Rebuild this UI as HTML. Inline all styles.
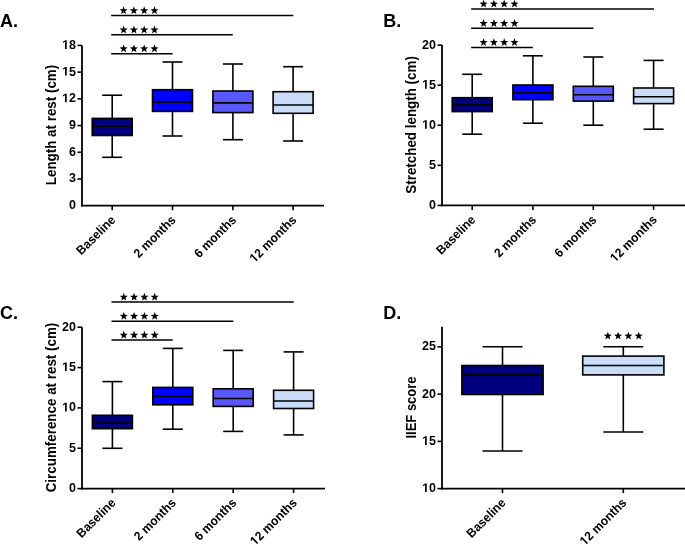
<!DOCTYPE html>
<html><head><meta charset="utf-8"><style>
html,body{margin:0;padding:0;background:#fff;width:685px;height:545px;overflow:hidden}
svg{display:block;will-change:transform}
text{font-family:"Liberation Sans",sans-serif;font-weight:bold}
</style></head><body>
<svg width="685" height="545" viewBox="0 0 685 545" font-family="Liberation Sans, sans-serif" font-weight="bold" fill="#000">
<g transform="translate(0 0.4)">
<g transform="translate(0.00 26.30)"><text x="0" y="0" font-size="18.000" text-anchor="start">A.</text></g>
<line x1="82.00" y1="45.00" x2="82.00" y2="206.20" stroke="#000" stroke-width="1.8"/>
<line x1="77.50" y1="45.00" x2="82.00" y2="45.00" stroke="#000" stroke-width="1.6"/>
<g transform="translate(76.00 48.50)"><text x="0" y="0" font-size="12.500" text-anchor="end">&#8199;8</text><path d="M478,0L478,1170L140,959L140,1180L493,1409L759,1409L759,0Z" transform="translate(-13.904 0) scale(0.006104 -0.006104)"/></g>
<line x1="77.50" y1="71.72" x2="82.00" y2="71.72" stroke="#000" stroke-width="1.6"/>
<g transform="translate(76.00 75.22)"><text x="0" y="0" font-size="12.500" text-anchor="end">&#8199;5</text><path d="M478,0L478,1170L140,959L140,1180L493,1409L759,1409L759,0Z" transform="translate(-13.904 0) scale(0.006104 -0.006104)"/></g>
<line x1="77.50" y1="98.43" x2="82.00" y2="98.43" stroke="#000" stroke-width="1.6"/>
<g transform="translate(76.00 101.93)"><text x="0" y="0" font-size="12.500" text-anchor="end">&#8199;2</text><path d="M478,0L478,1170L140,959L140,1180L493,1409L759,1409L759,0Z" transform="translate(-13.904 0) scale(0.006104 -0.006104)"/></g>
<line x1="77.50" y1="125.15" x2="82.00" y2="125.15" stroke="#000" stroke-width="1.6"/>
<g transform="translate(76.00 128.65)"><text x="0" y="0" font-size="12.500" text-anchor="end">9</text></g>
<line x1="77.50" y1="151.87" x2="82.00" y2="151.87" stroke="#000" stroke-width="1.6"/>
<g transform="translate(76.00 155.37)"><text x="0" y="0" font-size="12.500" text-anchor="end">6</text></g>
<line x1="77.50" y1="178.58" x2="82.00" y2="178.58" stroke="#000" stroke-width="1.6"/>
<g transform="translate(76.00 182.08)"><text x="0" y="0" font-size="12.500" text-anchor="end">3</text></g>
<g transform="translate(76.00 208.80)"><text x="0" y="0" font-size="12.500" text-anchor="end">0</text></g>
<line x1="81.10" y1="205.30" x2="324.00" y2="205.30" stroke="#000" stroke-width="1.8"/>
<line x1="112.20" y1="205.30" x2="112.20" y2="209.80" stroke="#000" stroke-width="1.6"/>
<g transform="translate(116.20 220.30) rotate(-45) scale(0.9524 1)"><text x="0" y="0" font-size="12.600" text-anchor="end">Baseline</text></g>
<line x1="172.50" y1="205.30" x2="172.50" y2="209.80" stroke="#000" stroke-width="1.6"/>
<g transform="translate(176.50 220.30) rotate(-45) scale(0.9524 1)"><text x="0" y="0" font-size="12.600" text-anchor="end">2 months</text></g>
<line x1="232.90" y1="205.30" x2="232.90" y2="209.80" stroke="#000" stroke-width="1.6"/>
<g transform="translate(236.90 220.30) rotate(-45) scale(0.9524 1)"><text x="0" y="0" font-size="12.600" text-anchor="end">6 months</text></g>
<line x1="293.10" y1="205.30" x2="293.10" y2="209.80" stroke="#000" stroke-width="1.6"/>
<g transform="translate(297.10 220.30) rotate(-45) scale(0.9524 1)"><text x="0" y="0" font-size="12.600" text-anchor="end">&#8199;2 months</text><path d="M478,0L478,1170L140,959L140,1180L493,1409L759,1409L759,0Z" transform="translate(-63.016 0) scale(0.006152 -0.006152)"/></g>
<g transform="translate(56.00 124.60) rotate(-90) scale(0.9346 1)"><text x="0" y="0" font-size="14.338" text-anchor="middle">Length at rest (cm)</text></g>
<line x1="112.20" y1="94.80" x2="112.20" y2="118.00" stroke="#000" stroke-width="1.6"/>
<line x1="112.20" y1="135.10" x2="112.20" y2="156.90" stroke="#000" stroke-width="1.6"/>
<line x1="102.20" y1="94.80" x2="122.20" y2="94.80" stroke="#000" stroke-width="1.6"/>
<line x1="102.20" y1="156.90" x2="122.20" y2="156.90" stroke="#000" stroke-width="1.6"/>
<rect x="92.20" y="118.00" width="40.00" height="17.10" fill="#00007f" stroke="#000" stroke-width="1.6"/>
<line x1="92.20" y1="125.90" x2="132.20" y2="125.90" stroke="#000" stroke-width="1.6"/>
<line x1="172.50" y1="61.60" x2="172.50" y2="89.30" stroke="#000" stroke-width="1.6"/>
<line x1="172.50" y1="111.00" x2="172.50" y2="135.60" stroke="#000" stroke-width="1.6"/>
<line x1="162.50" y1="61.60" x2="182.50" y2="61.60" stroke="#000" stroke-width="1.6"/>
<line x1="162.50" y1="135.60" x2="182.50" y2="135.60" stroke="#000" stroke-width="1.6"/>
<rect x="152.50" y="89.30" width="40.00" height="21.70" fill="#0000ff" stroke="#000" stroke-width="1.6"/>
<line x1="152.50" y1="101.70" x2="192.50" y2="101.70" stroke="#000" stroke-width="1.6"/>
<line x1="232.90" y1="63.60" x2="232.90" y2="90.60" stroke="#000" stroke-width="1.6"/>
<line x1="232.90" y1="112.20" x2="232.90" y2="139.30" stroke="#000" stroke-width="1.6"/>
<line x1="222.90" y1="63.60" x2="242.90" y2="63.60" stroke="#000" stroke-width="1.6"/>
<line x1="222.90" y1="139.30" x2="242.90" y2="139.30" stroke="#000" stroke-width="1.6"/>
<rect x="212.90" y="90.60" width="40.00" height="21.60" fill="#5857fa" stroke="#000" stroke-width="1.6"/>
<line x1="212.90" y1="102.50" x2="252.90" y2="102.50" stroke="#000" stroke-width="1.6"/>
<line x1="293.10" y1="66.30" x2="293.10" y2="91.30" stroke="#000" stroke-width="1.6"/>
<line x1="293.10" y1="112.90" x2="293.10" y2="140.60" stroke="#000" stroke-width="1.6"/>
<line x1="283.10" y1="66.30" x2="303.10" y2="66.30" stroke="#000" stroke-width="1.6"/>
<line x1="283.10" y1="140.60" x2="303.10" y2="140.60" stroke="#000" stroke-width="1.6"/>
<rect x="273.10" y="91.30" width="40.00" height="21.60" fill="#c9ddf9" stroke="#000" stroke-width="1.6"/>
<line x1="273.10" y1="104.60" x2="313.10" y2="104.60" stroke="#000" stroke-width="1.6"/>
<line x1="111.20" y1="15.10" x2="293.30" y2="15.10" stroke="#000" stroke-width="1.45"/>
<polygon points="123.60,5.90 124.66,8.74 127.69,8.87 125.32,10.76 126.13,13.68 123.60,12.01 121.07,13.68 121.88,10.76 119.51,8.87 122.54,8.74" fill="#000"/>
<polygon points="133.90,5.90 134.96,8.74 137.99,8.87 135.62,10.76 136.43,13.68 133.90,12.01 131.37,13.68 132.18,10.76 129.81,8.87 132.84,8.74" fill="#000"/>
<polygon points="144.20,5.90 145.26,8.74 148.29,8.87 145.92,10.76 146.73,13.68 144.20,12.01 141.67,13.68 142.48,10.76 140.11,8.87 143.14,8.74" fill="#000"/>
<polygon points="154.50,5.90 155.56,8.74 158.59,8.87 156.22,10.76 157.03,13.68 154.50,12.01 151.97,13.68 152.78,10.76 150.41,8.87 153.44,8.74" fill="#000"/>
<line x1="111.20" y1="34.40" x2="232.80" y2="34.40" stroke="#000" stroke-width="1.45"/>
<polygon points="123.60,25.20 124.66,28.04 127.69,28.17 125.32,30.06 126.13,32.98 123.60,31.31 121.07,32.98 121.88,30.06 119.51,28.17 122.54,28.04" fill="#000"/>
<polygon points="133.90,25.20 134.96,28.04 137.99,28.17 135.62,30.06 136.43,32.98 133.90,31.31 131.37,32.98 132.18,30.06 129.81,28.17 132.84,28.04" fill="#000"/>
<polygon points="144.20,25.20 145.26,28.04 148.29,28.17 145.92,30.06 146.73,32.98 144.20,31.31 141.67,32.98 142.48,30.06 140.11,28.17 143.14,28.04" fill="#000"/>
<polygon points="154.50,25.20 155.56,28.04 158.59,28.17 156.22,30.06 157.03,32.98 154.50,31.31 151.97,32.98 152.78,30.06 150.41,28.17 153.44,28.04" fill="#000"/>
<line x1="111.20" y1="53.30" x2="172.60" y2="53.30" stroke="#000" stroke-width="1.45"/>
<polygon points="123.60,44.10 124.66,46.94 127.69,47.07 125.32,48.96 126.13,51.88 123.60,50.21 121.07,51.88 121.88,48.96 119.51,47.07 122.54,46.94" fill="#000"/>
<polygon points="133.90,44.10 134.96,46.94 137.99,47.07 135.62,48.96 136.43,51.88 133.90,50.21 131.37,51.88 132.18,48.96 129.81,47.07 132.84,46.94" fill="#000"/>
<polygon points="144.20,44.10 145.26,46.94 148.29,47.07 145.92,48.96 146.73,51.88 144.20,50.21 141.67,51.88 142.48,48.96 140.11,47.07 143.14,46.94" fill="#000"/>
<polygon points="154.50,44.10 155.56,46.94 158.59,47.07 156.22,48.96 157.03,51.88 154.50,50.21 151.97,51.88 152.78,48.96 150.41,47.07 153.44,46.94" fill="#000"/>
<g transform="translate(383.30 26.30)"><text x="0" y="0" font-size="18.000" text-anchor="start">B.</text></g>
<line x1="442.00" y1="44.70" x2="442.00" y2="205.90" stroke="#000" stroke-width="1.8"/>
<line x1="437.50" y1="44.70" x2="442.00" y2="44.70" stroke="#000" stroke-width="1.6"/>
<g transform="translate(436.00 48.20)"><text x="0" y="0" font-size="12.500" text-anchor="end">20</text></g>
<line x1="437.50" y1="84.78" x2="442.00" y2="84.78" stroke="#000" stroke-width="1.6"/>
<g transform="translate(436.00 88.28)"><text x="0" y="0" font-size="12.500" text-anchor="end">&#8199;5</text><path d="M478,0L478,1170L140,959L140,1180L493,1409L759,1409L759,0Z" transform="translate(-13.904 0) scale(0.006104 -0.006104)"/></g>
<line x1="437.50" y1="124.85" x2="442.00" y2="124.85" stroke="#000" stroke-width="1.6"/>
<g transform="translate(436.00 128.35)"><text x="0" y="0" font-size="12.500" text-anchor="end">&#8199;0</text><path d="M478,0L478,1170L140,959L140,1180L493,1409L759,1409L759,0Z" transform="translate(-13.904 0) scale(0.006104 -0.006104)"/></g>
<line x1="437.50" y1="164.93" x2="442.00" y2="164.93" stroke="#000" stroke-width="1.6"/>
<g transform="translate(436.00 168.43)"><text x="0" y="0" font-size="12.500" text-anchor="end">5</text></g>
<line x1="437.50" y1="205.00" x2="442.00" y2="205.00" stroke="#000" stroke-width="1.6"/>
<g transform="translate(436.00 208.50)"><text x="0" y="0" font-size="12.500" text-anchor="end">0</text></g>
<line x1="441.10" y1="205.00" x2="685.00" y2="205.00" stroke="#000" stroke-width="1.8"/>
<line x1="472.20" y1="205.00" x2="472.20" y2="209.50" stroke="#000" stroke-width="1.6"/>
<g transform="translate(476.20 220.00) rotate(-45) scale(0.9524 1)"><text x="0" y="0" font-size="12.600" text-anchor="end">Baseline</text></g>
<line x1="532.90" y1="205.00" x2="532.90" y2="209.50" stroke="#000" stroke-width="1.6"/>
<g transform="translate(536.90 220.00) rotate(-45) scale(0.9524 1)"><text x="0" y="0" font-size="12.600" text-anchor="end">2 months</text></g>
<line x1="593.30" y1="205.00" x2="593.30" y2="209.50" stroke="#000" stroke-width="1.6"/>
<g transform="translate(597.30 220.00) rotate(-45) scale(0.9524 1)"><text x="0" y="0" font-size="12.600" text-anchor="end">6 months</text></g>
<line x1="653.60" y1="205.00" x2="653.60" y2="209.50" stroke="#000" stroke-width="1.6"/>
<g transform="translate(657.60 220.00) rotate(-45) scale(0.9524 1)"><text x="0" y="0" font-size="12.600" text-anchor="end">&#8199;2 months</text><path d="M478,0L478,1170L140,959L140,1180L493,1409L759,1409L759,0Z" transform="translate(-63.016 0) scale(0.006152 -0.006152)"/></g>
<g transform="translate(415.80 124.50) rotate(-90) scale(0.9346 1)"><text x="0" y="0" font-size="14.338" text-anchor="middle">Stretched length (cm)</text></g>
<line x1="472.20" y1="73.90" x2="472.20" y2="97.30" stroke="#000" stroke-width="1.6"/>
<line x1="472.20" y1="111.20" x2="472.20" y2="133.80" stroke="#000" stroke-width="1.6"/>
<line x1="462.20" y1="73.90" x2="482.20" y2="73.90" stroke="#000" stroke-width="1.6"/>
<line x1="462.20" y1="133.80" x2="482.20" y2="133.80" stroke="#000" stroke-width="1.6"/>
<rect x="452.20" y="97.30" width="40.00" height="13.90" fill="#00007f" stroke="#000" stroke-width="1.6"/>
<line x1="452.20" y1="104.20" x2="492.20" y2="104.20" stroke="#000" stroke-width="1.6"/>
<line x1="532.90" y1="55.40" x2="532.90" y2="84.60" stroke="#000" stroke-width="1.6"/>
<line x1="532.90" y1="99.30" x2="532.90" y2="122.80" stroke="#000" stroke-width="1.6"/>
<line x1="522.90" y1="55.40" x2="542.90" y2="55.40" stroke="#000" stroke-width="1.6"/>
<line x1="522.90" y1="122.80" x2="542.90" y2="122.80" stroke="#000" stroke-width="1.6"/>
<rect x="512.90" y="84.60" width="40.00" height="14.70" fill="#0000ff" stroke="#000" stroke-width="1.6"/>
<line x1="512.90" y1="92.30" x2="552.90" y2="92.30" stroke="#000" stroke-width="1.6"/>
<line x1="593.30" y1="56.60" x2="593.30" y2="85.90" stroke="#000" stroke-width="1.6"/>
<line x1="593.30" y1="100.70" x2="593.30" y2="124.80" stroke="#000" stroke-width="1.6"/>
<line x1="583.30" y1="56.60" x2="603.30" y2="56.60" stroke="#000" stroke-width="1.6"/>
<line x1="583.30" y1="124.80" x2="603.30" y2="124.80" stroke="#000" stroke-width="1.6"/>
<rect x="573.30" y="85.90" width="40.00" height="14.80" fill="#5857fa" stroke="#000" stroke-width="1.6"/>
<line x1="573.30" y1="94.30" x2="613.30" y2="94.30" stroke="#000" stroke-width="1.6"/>
<line x1="653.60" y1="60.00" x2="653.60" y2="87.60" stroke="#000" stroke-width="1.6"/>
<line x1="653.60" y1="103.20" x2="653.60" y2="128.80" stroke="#000" stroke-width="1.6"/>
<line x1="643.60" y1="60.00" x2="663.60" y2="60.00" stroke="#000" stroke-width="1.6"/>
<line x1="643.60" y1="128.80" x2="663.60" y2="128.80" stroke="#000" stroke-width="1.6"/>
<rect x="633.60" y="87.60" width="40.00" height="15.60" fill="#c9ddf9" stroke="#000" stroke-width="1.6"/>
<line x1="633.60" y1="96.30" x2="673.60" y2="96.30" stroke="#000" stroke-width="1.6"/>
<line x1="471.20" y1="8.50" x2="654.00" y2="8.50" stroke="#000" stroke-width="1.45"/>
<polygon points="483.60,-0.70 484.66,2.14 487.69,2.27 485.32,4.16 486.13,7.08 483.60,5.41 481.07,7.08 481.88,4.16 479.51,2.27 482.54,2.14" fill="#000"/>
<polygon points="493.90,-0.70 494.96,2.14 497.99,2.27 495.62,4.16 496.43,7.08 493.90,5.41 491.37,7.08 492.18,4.16 489.81,2.27 492.84,2.14" fill="#000"/>
<polygon points="504.20,-0.70 505.26,2.14 508.29,2.27 505.92,4.16 506.73,7.08 504.20,5.41 501.67,7.08 502.48,4.16 500.11,2.27 503.14,2.14" fill="#000"/>
<polygon points="514.50,-0.70 515.56,2.14 518.59,2.27 516.22,4.16 517.03,7.08 514.50,5.41 511.97,7.08 512.78,4.16 510.41,2.27 513.44,2.14" fill="#000"/>
<line x1="471.20" y1="27.90" x2="593.40" y2="27.90" stroke="#000" stroke-width="1.45"/>
<polygon points="483.60,18.70 484.66,21.54 487.69,21.67 485.32,23.56 486.13,26.48 483.60,24.81 481.07,26.48 481.88,23.56 479.51,21.67 482.54,21.54" fill="#000"/>
<polygon points="493.90,18.70 494.96,21.54 497.99,21.67 495.62,23.56 496.43,26.48 493.90,24.81 491.37,26.48 492.18,23.56 489.81,21.67 492.84,21.54" fill="#000"/>
<polygon points="504.20,18.70 505.26,21.54 508.29,21.67 505.92,23.56 506.73,26.48 504.20,24.81 501.67,26.48 502.48,23.56 500.11,21.67 503.14,21.54" fill="#000"/>
<polygon points="514.50,18.70 515.56,21.54 518.59,21.67 516.22,23.56 517.03,26.48 514.50,24.81 511.97,26.48 512.78,23.56 510.41,21.67 513.44,21.54" fill="#000"/>
<line x1="471.20" y1="47.00" x2="532.90" y2="47.00" stroke="#000" stroke-width="1.45"/>
<polygon points="483.60,37.80 484.66,40.64 487.69,40.77 485.32,42.66 486.13,45.58 483.60,43.91 481.07,45.58 481.88,42.66 479.51,40.77 482.54,40.64" fill="#000"/>
<polygon points="493.90,37.80 494.96,40.64 497.99,40.77 495.62,42.66 496.43,45.58 493.90,43.91 491.37,45.58 492.18,42.66 489.81,40.77 492.84,40.64" fill="#000"/>
<polygon points="504.20,37.80 505.26,40.64 508.29,40.77 505.92,42.66 506.73,45.58 504.20,43.91 501.67,45.58 502.48,42.66 500.11,40.77 503.14,40.64" fill="#000"/>
<polygon points="514.50,37.80 515.56,40.64 518.59,40.77 516.22,42.66 517.03,45.58 514.50,43.91 511.97,45.58 512.78,42.66 510.41,40.77 513.44,40.64" fill="#000"/>
<g transform="translate(0.00 318.40)"><text x="0" y="0" font-size="18.000" text-anchor="start">C.</text></g>
<line x1="82.00" y1="326.80" x2="82.00" y2="489.10" stroke="#000" stroke-width="1.8"/>
<line x1="77.50" y1="326.80" x2="82.00" y2="326.80" stroke="#000" stroke-width="1.6"/>
<g transform="translate(76.00 330.30)"><text x="0" y="0" font-size="12.500" text-anchor="end">20</text></g>
<line x1="77.50" y1="367.15" x2="82.00" y2="367.15" stroke="#000" stroke-width="1.6"/>
<g transform="translate(76.00 370.65)"><text x="0" y="0" font-size="12.500" text-anchor="end">&#8199;5</text><path d="M478,0L478,1170L140,959L140,1180L493,1409L759,1409L759,0Z" transform="translate(-13.904 0) scale(0.006104 -0.006104)"/></g>
<line x1="77.50" y1="407.50" x2="82.00" y2="407.50" stroke="#000" stroke-width="1.6"/>
<g transform="translate(76.00 411.00)"><text x="0" y="0" font-size="12.500" text-anchor="end">&#8199;0</text><path d="M478,0L478,1170L140,959L140,1180L493,1409L759,1409L759,0Z" transform="translate(-13.904 0) scale(0.006104 -0.006104)"/></g>
<line x1="77.50" y1="447.85" x2="82.00" y2="447.85" stroke="#000" stroke-width="1.6"/>
<g transform="translate(76.00 451.35)"><text x="0" y="0" font-size="12.500" text-anchor="end">5</text></g>
<line x1="77.50" y1="488.20" x2="82.00" y2="488.20" stroke="#000" stroke-width="1.6"/>
<g transform="translate(76.00 491.70)"><text x="0" y="0" font-size="12.500" text-anchor="end">0</text></g>
<line x1="81.10" y1="488.20" x2="325.00" y2="488.20" stroke="#000" stroke-width="1.8"/>
<line x1="112.40" y1="488.20" x2="112.40" y2="492.70" stroke="#000" stroke-width="1.6"/>
<g transform="translate(116.40 503.20) rotate(-45) scale(0.9524 1)"><text x="0" y="0" font-size="12.600" text-anchor="end">Baseline</text></g>
<line x1="172.80" y1="488.20" x2="172.80" y2="492.70" stroke="#000" stroke-width="1.6"/>
<g transform="translate(176.80 503.20) rotate(-45) scale(0.9524 1)"><text x="0" y="0" font-size="12.600" text-anchor="end">2 months</text></g>
<line x1="233.20" y1="488.20" x2="233.20" y2="492.70" stroke="#000" stroke-width="1.6"/>
<g transform="translate(237.20 503.20) rotate(-45) scale(0.9524 1)"><text x="0" y="0" font-size="12.600" text-anchor="end">6 months</text></g>
<line x1="293.60" y1="488.20" x2="293.60" y2="492.70" stroke="#000" stroke-width="1.6"/>
<g transform="translate(297.60 503.20) rotate(-45) scale(0.9524 1)"><text x="0" y="0" font-size="12.600" text-anchor="end">&#8199;2 months</text><path d="M478,0L478,1170L140,959L140,1180L493,1409L759,1409L759,0Z" transform="translate(-63.016 0) scale(0.006152 -0.006152)"/></g>
<g transform="translate(56.00 407.10) rotate(-90) scale(0.9346 1)"><text x="0" y="0" font-size="14.338" text-anchor="middle">Circumference at rest (cm)</text></g>
<line x1="112.40" y1="381.20" x2="112.40" y2="414.90" stroke="#000" stroke-width="1.6"/>
<line x1="112.40" y1="428.30" x2="112.40" y2="447.90" stroke="#000" stroke-width="1.6"/>
<line x1="102.40" y1="381.20" x2="122.40" y2="381.20" stroke="#000" stroke-width="1.6"/>
<line x1="102.40" y1="447.90" x2="122.40" y2="447.90" stroke="#000" stroke-width="1.6"/>
<rect x="92.40" y="414.90" width="40.00" height="13.40" fill="#00007f" stroke="#000" stroke-width="1.6"/>
<line x1="92.40" y1="421.60" x2="132.40" y2="421.60" stroke="#000" stroke-width="1.6"/>
<line x1="172.80" y1="348.00" x2="172.80" y2="387.00" stroke="#000" stroke-width="1.6"/>
<line x1="172.80" y1="404.40" x2="172.80" y2="428.80" stroke="#000" stroke-width="1.6"/>
<line x1="162.80" y1="348.00" x2="182.80" y2="348.00" stroke="#000" stroke-width="1.6"/>
<line x1="162.80" y1="428.80" x2="182.80" y2="428.80" stroke="#000" stroke-width="1.6"/>
<rect x="152.80" y="387.00" width="40.00" height="17.40" fill="#0000ff" stroke="#000" stroke-width="1.6"/>
<line x1="152.80" y1="396.10" x2="192.80" y2="396.10" stroke="#000" stroke-width="1.6"/>
<line x1="233.20" y1="350.00" x2="233.20" y2="388.40" stroke="#000" stroke-width="1.6"/>
<line x1="233.20" y1="406.00" x2="233.20" y2="431.00" stroke="#000" stroke-width="1.6"/>
<line x1="223.20" y1="350.00" x2="243.20" y2="350.00" stroke="#000" stroke-width="1.6"/>
<line x1="223.20" y1="431.00" x2="243.20" y2="431.00" stroke="#000" stroke-width="1.6"/>
<rect x="213.20" y="388.40" width="40.00" height="17.60" fill="#5857fa" stroke="#000" stroke-width="1.6"/>
<line x1="213.20" y1="398.10" x2="253.20" y2="398.10" stroke="#000" stroke-width="1.6"/>
<line x1="293.60" y1="351.50" x2="293.60" y2="389.90" stroke="#000" stroke-width="1.6"/>
<line x1="293.60" y1="408.10" x2="293.60" y2="434.50" stroke="#000" stroke-width="1.6"/>
<line x1="283.60" y1="351.50" x2="303.60" y2="351.50" stroke="#000" stroke-width="1.6"/>
<line x1="283.60" y1="434.50" x2="303.60" y2="434.50" stroke="#000" stroke-width="1.6"/>
<rect x="273.60" y="389.90" width="40.00" height="18.20" fill="#c9ddf9" stroke="#000" stroke-width="1.6"/>
<line x1="273.60" y1="400.60" x2="313.60" y2="400.60" stroke="#000" stroke-width="1.6"/>
<line x1="111.50" y1="301.60" x2="293.80" y2="301.60" stroke="#000" stroke-width="1.45"/>
<polygon points="123.80,292.40 124.86,295.24 127.89,295.37 125.52,297.26 126.33,300.18 123.80,298.51 121.27,300.18 122.08,297.26 119.71,295.37 122.74,295.24" fill="#000"/>
<polygon points="134.10,292.40 135.16,295.24 138.19,295.37 135.82,297.26 136.63,300.18 134.10,298.51 131.57,300.18 132.38,297.26 130.01,295.37 133.04,295.24" fill="#000"/>
<polygon points="144.40,292.40 145.46,295.24 148.49,295.37 146.12,297.26 146.93,300.18 144.40,298.51 141.87,300.18 142.68,297.26 140.31,295.37 143.34,295.24" fill="#000"/>
<polygon points="154.70,292.40 155.76,295.24 158.79,295.37 156.42,297.26 157.23,300.18 154.70,298.51 152.17,300.18 152.98,297.26 150.61,295.37 153.64,295.24" fill="#000"/>
<line x1="111.50" y1="320.80" x2="233.30" y2="320.80" stroke="#000" stroke-width="1.45"/>
<polygon points="123.80,311.60 124.86,314.44 127.89,314.57 125.52,316.46 126.33,319.38 123.80,317.71 121.27,319.38 122.08,316.46 119.71,314.57 122.74,314.44" fill="#000"/>
<polygon points="134.10,311.60 135.16,314.44 138.19,314.57 135.82,316.46 136.63,319.38 134.10,317.71 131.57,319.38 132.38,316.46 130.01,314.57 133.04,314.44" fill="#000"/>
<polygon points="144.40,311.60 145.46,314.44 148.49,314.57 146.12,316.46 146.93,319.38 144.40,317.71 141.87,319.38 142.68,316.46 140.31,314.57 143.34,314.44" fill="#000"/>
<polygon points="154.70,311.60 155.76,314.44 158.79,314.57 156.42,316.46 157.23,319.38 154.70,317.71 152.17,319.38 152.98,316.46 150.61,314.57 153.64,314.44" fill="#000"/>
<line x1="111.50" y1="339.60" x2="172.70" y2="339.60" stroke="#000" stroke-width="1.45"/>
<polygon points="123.80,330.40 124.86,333.24 127.89,333.37 125.52,335.26 126.33,338.18 123.80,336.51 121.27,338.18 122.08,335.26 119.71,333.37 122.74,333.24" fill="#000"/>
<polygon points="134.10,330.40 135.16,333.24 138.19,333.37 135.82,335.26 136.63,338.18 134.10,336.51 131.57,338.18 132.38,335.26 130.01,333.37 133.04,333.24" fill="#000"/>
<polygon points="144.40,330.40 145.46,333.24 148.49,333.37 146.12,335.26 146.93,338.18 144.40,336.51 141.87,338.18 142.68,335.26 140.31,333.37 143.34,333.24" fill="#000"/>
<polygon points="154.70,330.40 155.76,333.24 158.79,333.37 156.42,335.26 157.23,338.18 154.70,336.51 152.17,338.18 152.98,335.26 150.61,333.37 153.64,333.24" fill="#000"/>
<g transform="translate(383.30 318.40)"><text x="0" y="0" font-size="18.000" text-anchor="start">D.</text></g>
<line x1="442.00" y1="326.30" x2="442.00" y2="489.10" stroke="#000" stroke-width="1.8"/>
<line x1="437.50" y1="346.40" x2="442.00" y2="346.40" stroke="#000" stroke-width="1.6"/>
<g transform="translate(436.00 349.90)"><text x="0" y="0" font-size="12.500" text-anchor="end">25</text></g>
<line x1="437.50" y1="393.70" x2="442.00" y2="393.70" stroke="#000" stroke-width="1.6"/>
<g transform="translate(436.00 397.20)"><text x="0" y="0" font-size="12.500" text-anchor="end">20</text></g>
<line x1="437.50" y1="441.00" x2="442.00" y2="441.00" stroke="#000" stroke-width="1.6"/>
<g transform="translate(436.00 444.50)"><text x="0" y="0" font-size="12.500" text-anchor="end">&#8199;5</text><path d="M478,0L478,1170L140,959L140,1180L493,1409L759,1409L759,0Z" transform="translate(-13.904 0) scale(0.006104 -0.006104)"/></g>
<line x1="437.50" y1="488.20" x2="442.00" y2="488.20" stroke="#000" stroke-width="1.6"/>
<g transform="translate(436.00 491.70)"><text x="0" y="0" font-size="12.500" text-anchor="end">&#8199;0</text><path d="M478,0L478,1170L140,959L140,1180L493,1409L759,1409L759,0Z" transform="translate(-13.904 0) scale(0.006104 -0.006104)"/></g>
<line x1="441.10" y1="488.20" x2="685.00" y2="488.20" stroke="#000" stroke-width="1.8"/>
<line x1="502.50" y1="488.20" x2="502.50" y2="492.70" stroke="#000" stroke-width="1.6"/>
<g transform="translate(506.50 503.20) rotate(-45) scale(0.9524 1)"><text x="0" y="0" font-size="12.600" text-anchor="end">Baseline</text></g>
<line x1="623.30" y1="488.20" x2="623.30" y2="492.70" stroke="#000" stroke-width="1.6"/>
<g transform="translate(627.30 503.20) rotate(-45) scale(0.9524 1)"><text x="0" y="0" font-size="12.600" text-anchor="end">&#8199;2 months</text><path d="M478,0L478,1170L140,959L140,1180L493,1409L759,1409L759,0Z" transform="translate(-63.016 0) scale(0.006152 -0.006152)"/></g>
<g transform="translate(415.80 407.10) rotate(-90) scale(0.9346 1)"><text x="0" y="0" font-size="13.910" text-anchor="middle">IIEF score</text></g>
<line x1="502.50" y1="346.40" x2="502.50" y2="365.10" stroke="#000" stroke-width="1.6"/>
<line x1="502.50" y1="394.10" x2="502.50" y2="450.60" stroke="#000" stroke-width="1.6"/>
<line x1="482.50" y1="346.40" x2="522.50" y2="346.40" stroke="#000" stroke-width="1.6"/>
<line x1="482.50" y1="450.60" x2="522.50" y2="450.60" stroke="#000" stroke-width="1.6"/>
<rect x="461.90" y="365.10" width="81.20" height="29.00" fill="#00007f" stroke="#000" stroke-width="1.6"/>
<line x1="461.90" y1="374.50" x2="543.10" y2="374.50" stroke="#000" stroke-width="1.6"/>
<line x1="623.30" y1="346.40" x2="623.30" y2="355.70" stroke="#000" stroke-width="1.6"/>
<line x1="623.30" y1="374.50" x2="623.30" y2="431.60" stroke="#000" stroke-width="1.6"/>
<line x1="603.30" y1="346.40" x2="643.30" y2="346.40" stroke="#000" stroke-width="1.6"/>
<line x1="603.30" y1="431.60" x2="643.30" y2="431.60" stroke="#000" stroke-width="1.6"/>
<rect x="582.70" y="355.70" width="81.20" height="18.80" fill="#c9ddf9" stroke="#000" stroke-width="1.6"/>
<line x1="582.70" y1="365.10" x2="663.90" y2="365.10" stroke="#000" stroke-width="1.6"/>
<polygon points="607.80,331.30 608.86,334.14 611.89,334.27 609.52,336.16 610.33,339.08 607.80,337.41 605.27,339.08 606.08,336.16 603.71,334.27 606.74,334.14" fill="#000"/>
<polygon points="618.10,331.30 619.16,334.14 622.19,334.27 619.82,336.16 620.63,339.08 618.10,337.41 615.57,339.08 616.38,336.16 614.01,334.27 617.04,334.14" fill="#000"/>
<polygon points="628.40,331.30 629.46,334.14 632.49,334.27 630.12,336.16 630.93,339.08 628.40,337.41 625.87,339.08 626.68,336.16 624.31,334.27 627.34,334.14" fill="#000"/>
<polygon points="638.70,331.30 639.76,334.14 642.79,334.27 640.42,336.16 641.23,339.08 638.70,337.41 636.17,339.08 636.98,336.16 634.61,334.27 637.64,334.14" fill="#000"/>
</g>
</svg>
</body></html>
